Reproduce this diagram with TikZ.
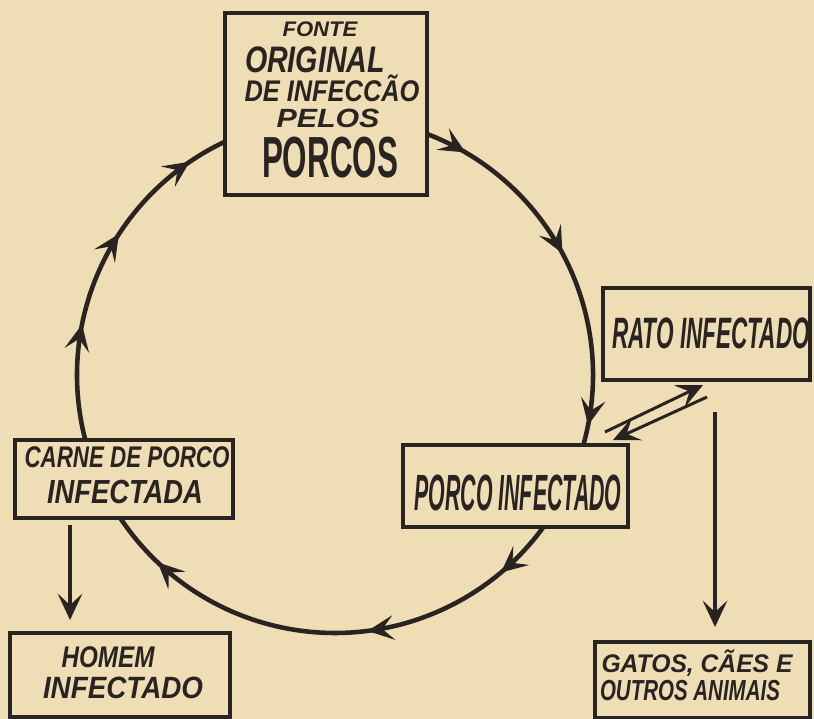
\documentclass[tikz,border=0pt]{standalone}
\usepackage{fontspec}
\setmainfont{Liberation Sans}
\usetikzlibrary{arrows.meta,decorations.markings,calc}
\definecolor{paper}{RGB}{239,221,181}
\definecolor{ink}{RGB}{40,36,33}
\newcommand{\lab}[3]{\fontsize{#1}{#1}\selectfont\resizebox{#2}{\height}{#3}}
\tikzset{hd/.tip={Stealth[length=15pt,width=14pt,inset=6.5pt]}}
\begin{document}
\begin{tikzpicture}[x=0.02cm,y=-0.02cm,
  box/.style={draw=ink,line width=2.1pt,inner sep=0,outer sep=0},
  lbl/.style={text=ink,inner sep=0,anchor=base,font=\bfseries\itshape},
  cyc/.style={draw=ink,line width=2.6pt,postaction={decorate}},
  conn/.style={draw=ink,line width=1.9pt,-{hd}}]
\fill[paper] (0,0) rectangle (814,719);
\useasboundingbox (0,0) rectangle (814,719);

% boxes
\node[box,minimum width=4.04cm,minimum height=3.64cm] (top) at (326,104) {};
\node[box,minimum width=4.14cm,minimum height=1.84cm] (rato) at (706.5,334) {};
\node[box,minimum width=4.5cm,minimum height=1.64cm] (porco) at (515.5,486) {};
\node[box,minimum width=4.36cm,minimum height=1.56cm] (carne) at (124,479) {};
\node[box,minimum width=4.4cm,minimum height=1.68cm] (homem) at (120,675) {};
\node[box,minimum width=4.3cm,minimum height=1.52cm] (gatos) at (702.5,680) {};

% labels
\node[lbl] (t1) at (320,37) {\lab{12}{1.5cm}{FONTE}};
\node[lbl] (t2) at (315,73) {\lab{21}{2.8cm}{ORIGINAL}};
\node[lbl] (t3) at (332,102) {\lab{17}{3.5cm}{DE INFECCÃO}};
\node[lbl] (t4) at (328,128) {\lab{15}{2.06cm}{PELOS}};
\node[lbl,font=\bfseries] (t5) at (330,178) {\lab{33}{2.72cm}{PORCOS}};
\node[lbl] (r1) at (711,348) {\lab{25}{3.96cm}{RATO INFECTADO}};
\node[lbl] (p1) at (518,510) {\lab{29}{4.14cm}{PORCO INFECTADO}};
\node[lbl] (c1) at (127,467) {\lab{17}{4.1cm}{CARNE DE PORCO}};
\node[lbl] (c2) at (125,503) {\lab{19}{3.12cm}{INFECTADA}};
\node[lbl] (h1) at (108,667) {\lab{17}{1.86cm}{HOMEM}};
\node[lbl] (h2) at (123,698) {\lab{17.5}{3.2cm}{INFECTADO}};
\node[lbl] (g1) at (697,672) {\lab{14.5}{3.82cm}{GATOS, CÃES E}};
\node[lbl] (g2) at (690,700) {\lab{16.5}{3.6cm}{OUTROS ANIMAIS}};

% cycle arcs
\coordinate (c) at (335,375);
\draw[cyc,decoration={markings,
   mark=at position 0.112 with {\arrow{hd}},
   mark=at position 0.482 with {\arrow{hd}},
   mark=at position 0.946 with {\arrow{hd}}}]
  ($(c)+(-69.1:258)$) arc[start angle=-69.1,end angle=15.8,radius=258];
\draw[cyc,decoration={markings,
   mark=at position 0.124 with {\arrow{hd}},
   mark=at position 0.422 with {\arrow{hd}},
   mark=at position 0.882 with {\arrow{hd}}}]
  ($(c)+(36.3:258)$) arc[start angle=36.3,end angle=146.4,radius=258];
\draw[cyc,decoration={markings,
   mark=at position 0.327 with {\arrow{hd}},
   mark=at position 0.602 with {\arrow{hd}},
   mark=at position 0.887 with {\arrow{hd}}}]
  ($(c)+(165.4:258)$) arc[start angle=165.4,end angle=244.7,radius=258];

% straight arrows
\coordinate (hx) at (70,0);
\coordinate (gx) at (715,0);
\draw[conn] ($(carne.south -| hx)+(0,7)$) -- ($(homem.north -| hx)+(0,-13)$);
\draw[conn] ($(rato.south -| gx)+(0,32)$) -- ($(gatos.north -| gx)+(0,-15)$);
\coordinate (d1a) at (605,432);
\coordinate (d1b) at (703,385);
\coordinate (d2a) at (707,397);
\coordinate (d2b) at (613,440);
\draw[conn,line width=1.7pt] (d1a) -- (d1b);
\draw[conn,line width=1.7pt] (d2a) -- (d2b);
\end{tikzpicture}
\end{document}
